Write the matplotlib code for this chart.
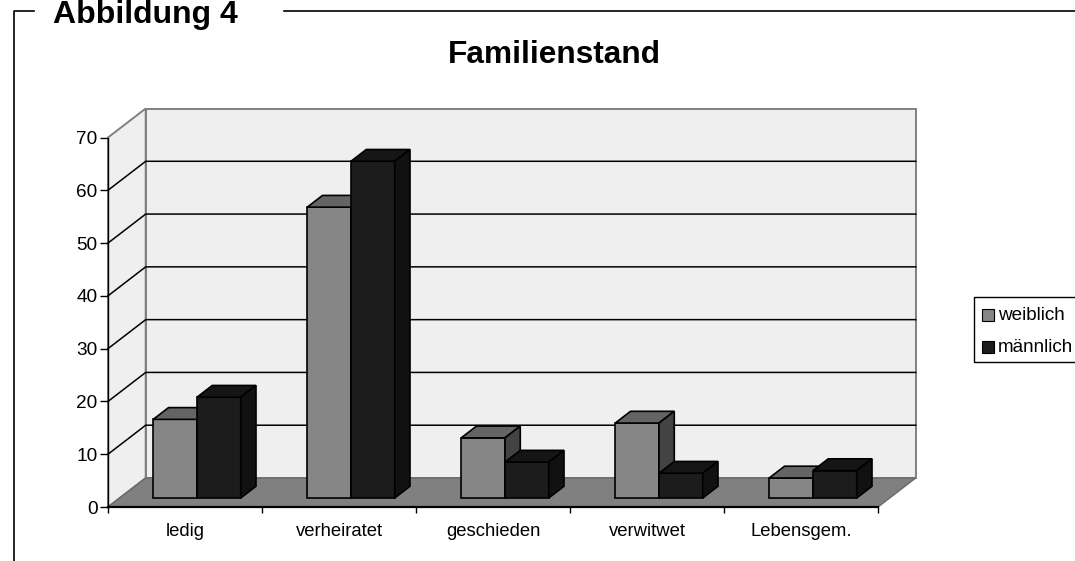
import numpy as np
import matplotlib
matplotlib.use('Agg')
import matplotlib.pyplot as plt
from matplotlib.patches import Polygon, Rectangle
from matplotlib.lines import Line2D

plt.rcParams['font.family'] = ['Liberation Sans', 'DejaVu Sans']

categories = ['ledig', 'verheiratet', 'geschieden', 'verwitwet', 'Lebensgem.']
weiblich = [14.9, 55.1, 11.4, 14.2, 3.8]
maennlich = [19.1, 63.8, 6.8, 4.7, 5.2]
yticks = [0, 10, 20, 30, 40, 50, 60, 70]

W, H = 1075, 561
fig = plt.figure(figsize=(W/100, H/100), dpi=100)

# front plane of the box, in pixels
x0, x1 = 108, 878
y0, y1 = 507, 137.5
ax = fig.add_axes([x0/W, 1-y0/H, (x1-x0)/W, (y0-y1)/H])
ax.set_xlim(0, 5)
ax.set_ylim(0, 70)
ax.patch.set_visible(False)
for s in ['top', 'right']:
    ax.spines[s].set_visible(False)
ax.spines['left'].set_linewidth(1.0)
ax.spines['bottom'].set_linewidth(1.6)

# depth of the box in data units
dx = 37.7/(x1-x0)*5
dy = 29/(y0-y1)*70
bar_d = 0.31   # front of the bars sits this far back
bar_w = 0.284

wall = '#efefef'
edge = '#808080'

# walls and floor
ax.add_patch(Polygon([(dx, dy), (5+dx, dy), (5+dx, 70+dy), (dx, 70+dy)], fc=wall, ec=edge, lw=1.4, zorder=1, clip_on=False))
ax.add_patch(Polygon([(0, 0), (dx, dy), (dx, 70+dy), (0, 70)], fc=wall, ec=edge, lw=1.4, zorder=1, clip_on=False))
ax.add_patch(Polygon([(0, 0), (5, 0), (5+dx, dy), (dx, dy)], fc='#808080', ec='#6a6a6a', lw=1, zorder=2, clip_on=False))

# gridlines run along the side wall and the back wall
for t in yticks[1:-1]:
    ax.plot([0, dx, 5+dx], [t, t+dy, t+dy], color='k', lw=1.1, zorder=3, clip_on=False)


def box3d(left, val, front, top, side, z):
    bx = left + bar_d*dx
    by = bar_d*dy
    ox = 0.5*dx*0.81
    oy = 0.5*dy*0.81
    ax.bar(bx, val, bar_w, bottom=by, align='edge', color=front, edgecolor='k', lw=1.2, zorder=z, clip_on=False)
    ax.add_patch(Polygon([(bx, by+val), (bx+bar_w, by+val), (bx+bar_w+ox, by+val+oy), (bx+ox, by+val+oy)],
                         fc=top, ec='k', lw=1.2, zorder=z, clip_on=False))
    ax.add_patch(Polygon([(bx+bar_w, by), (bx+bar_w+ox, by+oy), (bx+bar_w+ox, by+val+oy), (bx+bar_w, by+val)],
                         fc=side, ec='k', lw=1.2, zorder=z, clip_on=False))


for i in range(len(categories)):
    box3d(i+0.218, weiblich[i], '#868686', '#646464', '#434343', 4+i*2)
    box3d(i+0.218+bar_w, maennlich[i], '#1c1c1c', '#151515', '#111111', 5+i*2)

ax.set_yticks(yticks)
ax.set_xticks(range(6))
ax.set_xticklabels([])
ax.set_xticks(np.arange(len(categories))+0.5, categories, minor=True)
ax.tick_params(axis='x', which='minor', length=0, pad=11.5, labelsize=13.3)
ax.tick_params(axis='x', which='major', length=4.5, width=1)
ax.tick_params(axis='y', length=6, width=1, pad=1.5, labelsize=13.7)

# titles and outer frame
fig.text(554.5/W, 1-55/H, 'Familienstand', fontsize=22.8, fontweight='bold', ha='center', va='center')
fig.text(53/W, 1-22.7/H, 'Abbildung 4', fontsize=23, fontweight='bold', ha='left', va='baseline')
for xs, ys in [([14, 14, 34], [561, 11, 11]), ([284, 1075], [11, 11])]:
    fig.add_artist(Line2D(np.array(xs)/W, 1-np.array(ys)/H, color='k', lw=1.2))

# legend
fig.add_artist(Rectangle((974/W, 1-362/H), 110/W, 65/H, fc='white', ec='k', lw=1, transform=fig.transFigure))
for y, c, lab in [(315, '#868686', 'weiblich'), (347, '#1c1c1c', 'männlich')]:
    fig.add_artist(Rectangle((982/W, 1-(y+6)/H), 12/W, 12/H, fc=c, ec='k', lw=0.8, transform=fig.transFigure))
    fig.text(998/W, 1-y/H, lab, fontsize=13.6, ha='left', va='center')

fig.savefig('out.png', dpi=100)
